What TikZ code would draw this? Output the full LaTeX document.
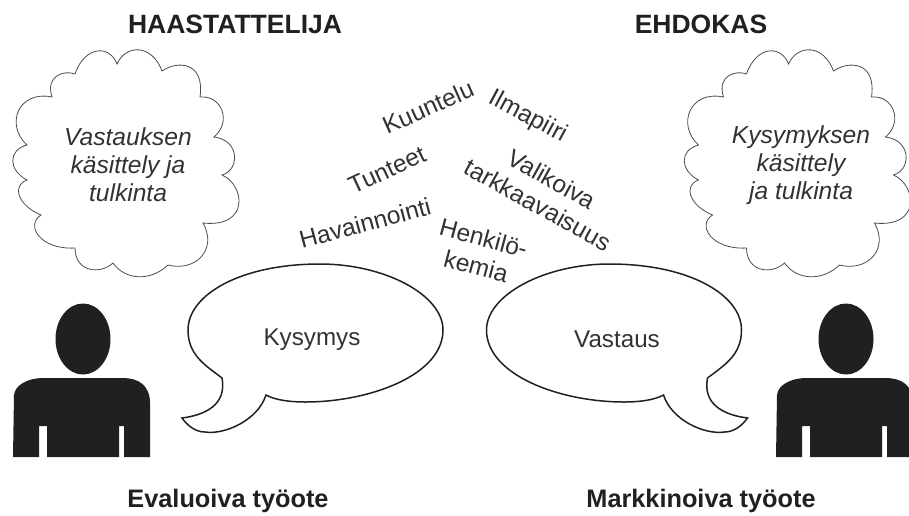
\documentclass[tikz,border=0pt]{standalone}
\usepackage{fontspec}
\setmainfont{Liberation Sans}
\definecolor{inkdark}{HTML}{202022}
\tikzset{
  heading/.style={font=\bfseries\fontsize{26.5}{30}\selectfont, text=inkdark, anchor=base},
  caption/.style={font=\bfseries\fontsize{25.3}{30}\selectfont, text=inkdark, anchor=base},
  thought/.style={font=\itshape\fontsize{24.6}{28}\selectfont, text=inkdark!92, align=center},
  spoken/.style={font=\fontsize{24.2}{28}\selectfont, text=inkdark!92},
  factor/.style={font=\fontsize{24.5}{29}\selectfont, text=inkdark!92, align=center},
  % one cloud, at the place of the left one
  cloudoutline/.pic={
    \draw[line width=0.8pt, inkdark!80] (117,64)
      .. controls (126,44) and (152,44) .. (162,71)
      .. controls (178,60) and (205,62) .. (200,97)
      .. controls (222,95) and (232,122) .. (214,137)
      .. controls (240,140) and (240,170) .. (222,175)
      .. controls (245,185) and (250,228) .. (203,223)
      .. controls (218,250) and (195,272) .. (168,265)
      .. controls (150,282) and (125,280) .. (113,263)
      .. controls (100,275) and (75,272) .. (75,248)
      .. controls (40,250) and (25,225) .. (41,215)
      .. controls (17,205) and (12,185) .. (27,180)
      .. controls (8,170) and (8,150) .. (27,145)
      .. controls (5,125) and (18,90) .. (52,97)
      .. controls (45,75) and (65,70) .. (75,74)
      .. controls (85,45) and (110,45) .. (117,64) -- cycle;
  },
  % one speech bubble, at the place of the left one
  bubbleoutline/.pic={
    \draw[line width=1.5pt, inkdark] (222,378)
      .. controls (205,365) and (188,355) .. (188,330)
      .. controls (188,295) and (240,264) .. (320,264)
      .. controls (385,264) and (443,295) .. (443,330)
      .. controls (443,375) and (370,402) .. (305,402)
      .. controls (290,402) and (275,400) .. (266,395)
      .. controls (258,420) and (225,435) .. (205,432)
      .. controls (195,432) and (187,425) .. (182,418)
      .. controls (205,415) and (227,405) .. (222,378) -- cycle;
  },
  % head and shoulders, x=0 on the middle of the head
  personshape/.pic={
    \fill[inkdark] (0,339) ellipse [x radius=27.5, y radius=35.5];
    \fill[inkdark] (-70,457) -- (-69,395)
      .. controls (-68,385) and (-55,378) .. (-40,378) -- (40,378)
      .. controls (55,378) and (67,385) .. (67,403) -- (67,457)
      -- (41,457) -- (41,426) -- (36,426) -- (36,457)
      -- (-36,457) -- (-36,426) -- (-44,426) -- (-44,457) -- cycle;
  },
}

\begin{document}
\begin{tikzpicture}[x=1pt, y=-1pt]
  \useasboundingbox (0,0) rectangle (909,515);
  \clip (0,0) rectangle (909,515);

  % the two sides
  \node[heading] (interviewer) at (235,33) {HAASTATTELIJA};
  \node[heading] (candidate) at (701,33) {EHDOKAS};

  % clouds
  \pic at (0,0) {cloudoutline};
  \pic at (671.5,0) {cloudoutline};
  \node[thought] (answerthought) at (128,165) {Vastauksen\\käsittely ja\\tulkinta};
  \node[thought] (questionthought) at (801,165) {Kysymyksen\\käsittely\\ja tulkinta};

  % words between the clouds
  \node[factor, rotate=24] (listening) at (428,107) {Kuuntelu};
  \node[factor, rotate=-28] (climate) at (528,117) {Ilmapiiri};
  \node[factor, rotate=25] (feelings) at (387,170) {Tunteet};
  \node[factor, rotate=-29] (attention) at (545,192) {Valikoiva\\tarkkaavaisuus};
  \node[factor, rotate=15] (observing) at (365,223) {Havainnointi};
  \node[factor, rotate=-15] (chemistry) at (480,252) {Henkilö-\\kemia};

  % speech bubbles
  \pic at (0,0) {bubbleoutline};
  \pic[xscale=-1] at (929.5,0) {bubbleoutline};
  \node[spoken] (question) at (312,340) {Kysymys};
  \node[spoken] (answer) at (617,339) {Vastaus};

  % people
  \pic at (83,0) {personshape};
  \pic at (846,0) {personshape};

  % bottom lines
  \node[caption] (evaluating) at (228,507) {Evaluoiva työote};
  \node[caption] (marketing) at (701,507) {Markkinoiva työote};
\end{tikzpicture}
\end{document}
